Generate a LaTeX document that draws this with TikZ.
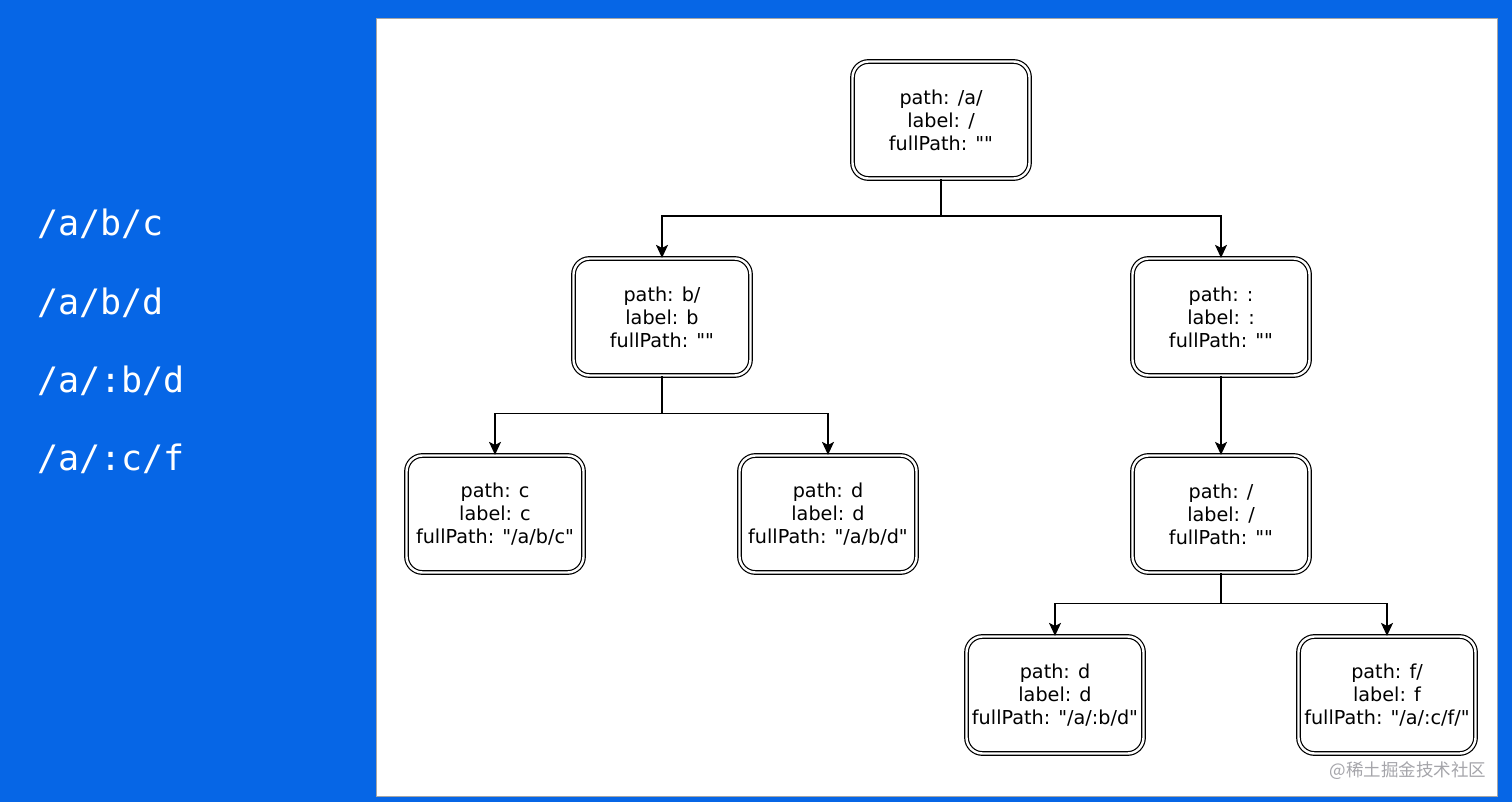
\documentclass[tikz,border=0pt]{standalone}
\usepackage{fontspec}
\newfontfamily\nodefont{DejaVu Sans}
\newfontfamily\pathfont{DejaVu Sans Mono}
\newfontfamily\cjkfont{Noto Sans CJK SC}
\usetikzlibrary{arrows.meta}
\definecolor{bgblue}{RGB}{6,102,230}
\definecolor{markgray}{RGB}{165,165,170}
\tikzset{
  trienode/.style={draw=black, double=white, double distance=2.4pt, line width=1.2pt,
    rounded corners=16pt, minimum width=177pt, minimum height=117pt,
    align=center, font=\nodefont\fontsize{19.2}{23}\selectfont, inner sep=0pt},
  link/.style={line width=1.2pt, -{Stealth[length=13pt,width=12pt,inset=3pt]}},
  pathtext/.style={text=white, anchor=base west, font=\pathfont\fontsize{35}{35}\selectfont}
}
\begin{document}
\begin{tikzpicture}[x=1pt,y=-1pt]
% Background and panel
\fill [bgblue] (0,0) rectangle (1512,802);%
\filldraw [fill=white, draw=gray!70, line width=0.8pt] (376,18) rectangle (1497,796);%
\useasboundingbox (0,0) rectangle (1512,802);

% Routes on the left
\node [pathtext] (p1) at (34,236) {/a/b/c};%
\node [pathtext] (p2) at (34,314) {/a/b/d};%
\node [pathtext] (p3) at (34,392) {/a/:b/d};%
\node [pathtext] (p4) at (34,470) {/a/:c/f};%

% Tree nodes
\node [trienode] (root) at (941,120) {path: /a/\\label: /\\fullPath: ""};%
\node [trienode] (nb) at (662,317) {path: b/\\label: b\\fullPath: ""};%
\node [trienode] (ncolon) at (1221,317) {path: :\\label: :\\fullPath: ""};%
\node [trienode] (nc) at (495,514) {path: c\\label: c\\fullPath: "/a/b/c"};%
\node [trienode] (nd) at (828,514) {path: d\\label: d\\fullPath: "/a/b/d"};%
\node [trienode] (nslash) at (1221,514) {path: /\\label: /\\fullPath: ""};%
\node [trienode] (nd2) at (1055,695) {path: d\\label: d\\fullPath: "/a/:b/d"};%
\node [trienode] (nf) at (1387,695) {path: f/\\label: f\\fullPath: "/a/:c/f/"};%

% Drawing links root
\draw [link] (root.south) -- ++(0,37) -| (nb.north);%
\draw [link] (root.south) -- ++(0,37) -| (ncolon.north);%

% Drawing links b
\draw [link] (nb.south) -- ++(0,37) -| (nc.north);%
\draw [link] (nb.south) -- ++(0,37) -| (nd.north);%

% Drawing link colon
\draw [link] (ncolon.south) -- (nslash.north);%

% Drawing links slash
\draw [link] (nslash.south) -- ++(0,30) -| (nd2.north);%
\draw [link] (nslash.south) -- ++(0,30) -| (nf.north);%

% Watermark
\node [text=markgray, anchor=base east, font=\cjkfont\fontsize{17.5}{17.5}\selectfont] (mark) at (1490,776) {@稀土掘金技术社区};%
\end{tikzpicture}
\end{document}
